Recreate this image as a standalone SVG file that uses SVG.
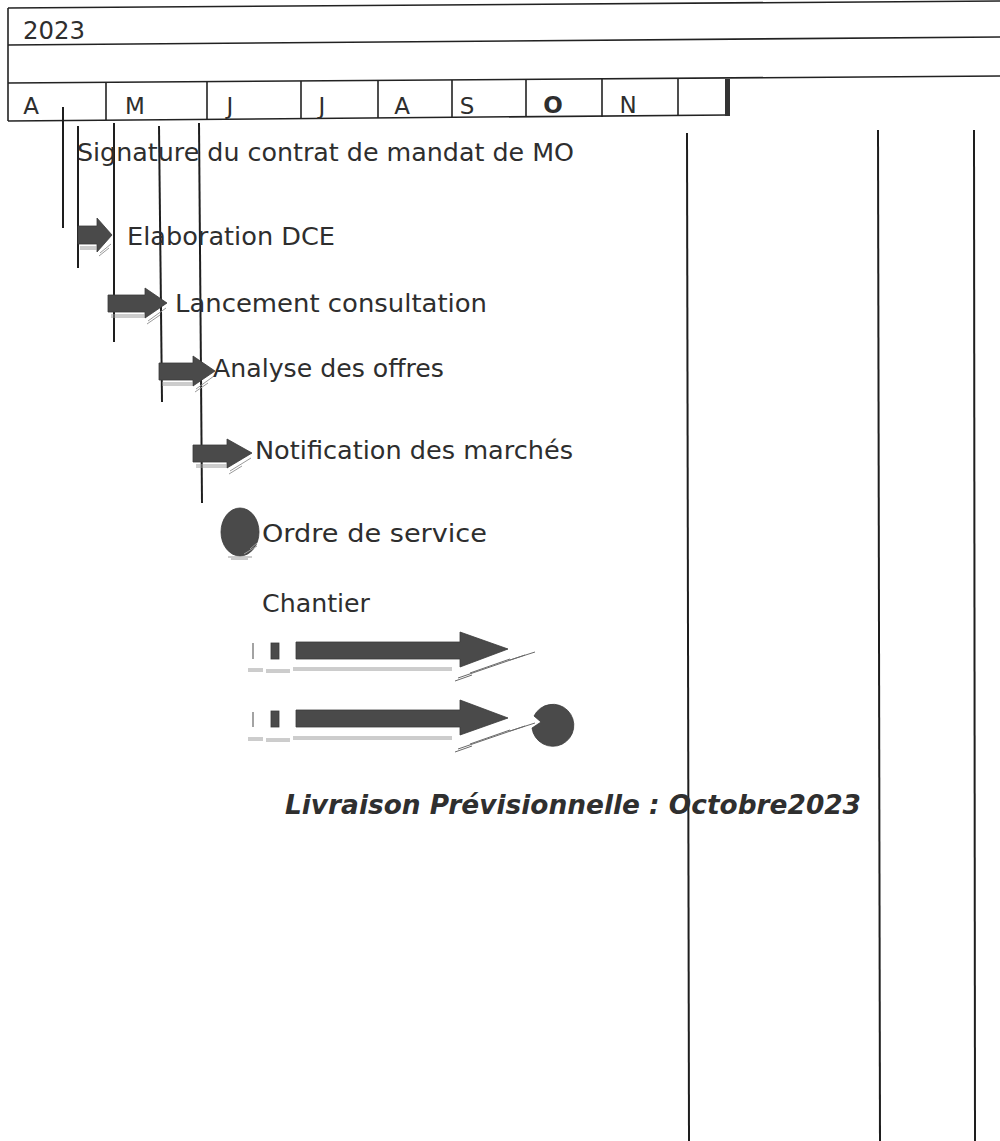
<svg xmlns="http://www.w3.org/2000/svg" width="1000" height="1141" viewBox="0 0 1000 1141">
<style>
  .t { font-family: "DejaVu Sans", "Liberation Sans", sans-serif; font-size: 24px; fill: #2e2e2e; }
  .m { font-family: "DejaVu Sans", "Liberation Sans", sans-serif; font-size: 23px; fill: #2e2e2e; text-anchor: middle; }
  .ln { stroke: #222; stroke-width: 1.6; fill: none; }
  .vl { stroke: #1e1e1e; stroke-width: 2; fill: none; }
  .ar { fill: #4a4a4a; stroke: #3a3a3a; stroke-width: 0.8; }
  .sh { stroke: #9a9a9a; stroke-width: 1; fill: none; }
  .sh2 { stroke: #6a6a6a; stroke-width: 1; fill: none; }
</style>
<rect width="1000" height="1141" fill="#ffffff"/>

<g id="header">
  <line class="ln" x1="8" y1="8" x2="1000" y2="1"/>
  <line class="ln" x1="8" y1="45" x2="1000" y2="37"/>
  <line class="ln" x1="8" y1="83" x2="1000" y2="76"/>
  <line class="ln" x1="8" y1="121" x2="728" y2="115"/>
  <line class="ln" x1="8" y1="8" x2="8" y2="121"/>
  <line class="ln" x1="106" y1="82" x2="106" y2="120"/>
  <line class="ln" x1="207" y1="82" x2="207" y2="119"/>
  <line class="ln" x1="301" y1="81" x2="301" y2="119"/>
  <line class="ln" x1="378" y1="81" x2="378" y2="118"/>
  <line class="ln" x1="452" y1="80" x2="452" y2="118"/>
  <line class="ln" x1="526" y1="80" x2="526" y2="117"/>
  <line class="ln" x1="602" y1="79" x2="602" y2="117"/>
  <line class="ln" x1="678" y1="79" x2="678" y2="116"/>
  <rect x="725" y="79" width="5" height="37" fill="#333"/>
  <text class="t" x="23" y="39" font-size="23" textLength="62" lengthAdjust="spacingAndGlyphs">2023</text>
  <text class="m" x="31" y="114">A</text>
  <text class="m" x="135" y="114">M</text>
  <text class="m" x="230" y="114">J</text>
  <text class="m" x="322" y="114">J</text>
  <text class="m" x="402" y="114">A</text>
  <text class="m" x="467" y="114">S</text>
  <text class="m" x="553" y="113" font-weight="bold">O</text>
  <text class="m" x="628" y="113">N</text>
</g>

<g id="connectors">
  <line class="vl" x1="63" y1="107" x2="63" y2="228"/>
  <line class="vl" x1="78" y1="126" x2="78" y2="268"/>
  <line class="vl" x1="114" y1="123" x2="114" y2="342"/>
  <line class="vl" x1="159" y1="126" x2="162" y2="402"/>
  <line class="vl" x1="199" y1="123" x2="202" y2="503"/>
  <line class="vl" x1="687" y1="133" x2="689" y2="1141"/>
  <line class="vl" x1="878" y1="130" x2="880" y2="1141"/>
  <line class="vl" x1="974" y1="130" x2="975" y2="1141"/>
</g>

<g id="signature">
  <text class="t" x="77" y="161" textLength="497" lengthAdjust="spacingAndGlyphs">Signature du contrat de mandat de MO</text>
</g>

<g id="elaboration">
  <polygon class="ar" points="78,226 97,226 97,218 112,235 97,252 97,244 78,244"/>
  <path class="sh" d="M80,247 H97 M80,249 H97 M100,253 L111,244 M99,256 L109,248"/>
  <text class="t" x="127" y="245" textLength="208" lengthAdjust="spacingAndGlyphs">Elaboration DCE</text>
</g>

<g id="lancement">
  <polygon class="ar" points="108,295 145,295 145,288 167,303 145,318 145,312 108,312"/>
  <path class="sh" d="M111,315 H145 M111,317 H145 M148,321 L166,308 M147,324 L160,315"/>
  <text class="t" x="175" y="312" textLength="312" lengthAdjust="spacingAndGlyphs">Lancement consultation</text>
</g>

<g id="analyse">
  <polygon class="ar" points="159,363 193,363 193,356 215,371 193,386 193,380 159,380"/>
  <path class="sh" d="M162,383 H193 M162,385 H193 M196,389 L214,376 M195,392 L208,383"/>
  <text class="t" x="213" y="377" textLength="231" lengthAdjust="spacingAndGlyphs">Analyse des offres</text>
</g>

<g id="notification">
  <polygon class="ar" points="193,445 227,445 227,439 252,453 227,468 227,462 193,462"/>
  <path class="sh" d="M196,465 H227 M196,467 H227 M230,471 L251,458 M229,474 L242,466"/>
  <text class="t" x="255" y="459" textLength="318" lengthAdjust="spacingAndGlyphs">Notification des marchés</text>
</g>

<g id="ordre-de-service">
  <ellipse class="ar" cx="240" cy="532" rx="19" ry="24"/>
  <path class="sh" d="M250,549 L257,543 M244,554 L257,546 M228,557 H252 M231,559 H248"/>
  <text class="t" x="262" y="542" textLength="225" lengthAdjust="spacingAndGlyphs">Ordre de service</text>
</g>

<g id="chantier">
  <text class="t" x="262" y="612" textLength="108" lengthAdjust="spacingAndGlyphs">Chantier</text>
  <line x1="253" y1="643" x2="253" y2="659" stroke="#666" stroke-width="1.2"/>
  <rect class="ar" x="271" y="643" width="8" height="16"/>
  <polygon class="ar" points="296,642 460,642 460,632 508,649 460,667 460,659 296,659"/>
  <path class="sh" d="M248,669 H263 M248,671 H263 M266,670 H290 M266,672 H290 M293,668 H452 M293,670 H452"/>
  <path class="sh2" d="M455,681 L472,675 M458,678 L490,667 M470,673 L510,659 M490,667 L525,655 M510,660 L535,652"/>

  <line x1="253" y1="712" x2="253" y2="727" stroke="#666" stroke-width="1.2"/>
  <rect class="ar" x="271" y="711" width="8" height="16"/>
  <polygon class="ar" points="296,710 460,710 460,700 508,718 460,735 460,727 296,727"/>
  <path class="ar" d="M534,716 A21,21 0 1,1 532,728 L541,722 Z"/>
  <path class="sh" d="M248,738 H263 M248,740 H263 M266,739 H290 M266,741 H290 M293,737 H452 M293,739 H452"/>
  <path class="sh2" d="M455,752 L472,746 M458,749 L490,738 M470,744 L510,730 M490,738 L525,726 M510,731 L535,723"/>
</g>

<g id="livraison">
  <text x="285" y="814" font-family="DejaVu Sans, Liberation Sans, sans-serif" font-size="27" font-weight="bold" font-style="italic" fill="#2f2f2f" textLength="576" lengthAdjust="spacingAndGlyphs">Livraison Prévisionnelle : Octobre2023</text>
</g>
</svg>
